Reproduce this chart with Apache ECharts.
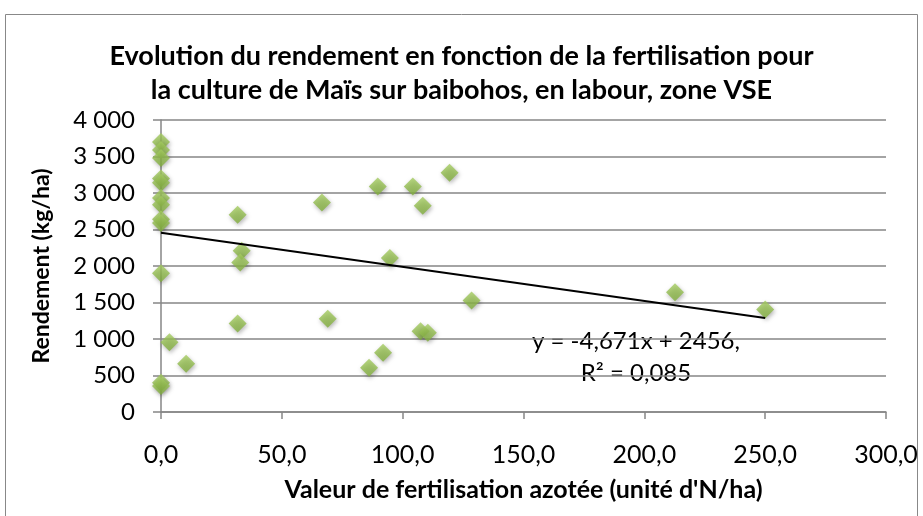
<!DOCTYPE html>
<html>
<head>
<meta charset="utf-8">
<script src="https://cdn.jsdelivr.net/npm/echarts@6/dist/echarts.min.js"></script>
<style>
  html, body { margin: 0; padding: 0; background: #fff; }
  #chart { width: 923px; height: 516px; }
</style>
</head>
<body>
<div id="chart"></div>
<script>
// fertilisation azotée (unité d'N/ha)
const fertN = [
    0, 0, 0, 0, 0, 0, 0, 0, 0, 0, 0, 0,
    3.5, 10.4, 31.7, 33.4, 32.8, 31.7, 66.6, 69.0,
    89.7, 94.7, 86.1, 91.9, 104.2, 108.3, 119.4, 128.5,
    107.4, 110.4, 212.7, 250.0
]
// rendement (kg/ha)
const rendement = [
    3700, 3590, 3480, 3200, 3140, 2930, 2840, 2640, 2590, 1900, 400, 355,
    956, 661, 2701, 2209, 2049, 1212, 2869, 1276,
    3088, 2109, 606, 811, 3088, 2824, 3279, 1526,
    1107, 1085, 1639, 1403
]
// courbe de tendance linéaire (Excel)
const trendSlope = -4.671
const trendIntercept = 2456
const trendRange = [0, 250]
const trendText = 'y = -4,671x + 2456,\nR² = 0,085'

const xTicks = { min: 0, max: 300, interval: 50 }
const yTicks = { min: 0, max: 4000, interval: 500 }

const FONT = 'Lato, "Open Sans", sans-serif'
const AXIS_GREY = '#868686'

const chart = echarts.init(document.getElementById('chart'), null, { renderer: 'canvas' })

const points = fertN.map((x, i) => [x, rendement[i]])
const trend = trendRange.map(x => [x, trendSlope * x + trendIntercept])

const fmtThousands = v => String(v).replace(/\B(?=(\d{3})+(?!\d))/g, ' ')
const fmtDecimal = v => v.toFixed(1).replace('.', ',')

chart.setOption({
    animation: false,
    backgroundColor: '#fff',
    textStyle: { fontFamily: FONT },
    title: {
        text: 'Evolution du rendement en fonction de la fertilisation pour\nla culture de Maïs sur baibohos, en labour, zone VSE',
        left: 'center',
        top: 34,
        textStyle: {
            fontFamily: FONT,
            fontSize: 27,
            fontWeight: 'bold',
            lineHeight: 34,
            color: '#000'
        }
    },
    graphic: [
        {
            type: 'rect',
            shape: { x: 5.5, y: 14.5, width: 912, height: 520 },
            style: { fill: 'none', stroke: '#888', lineWidth: 1 },
            silent: true
        },
        {
            // équation de la courbe de tendance
            type: 'text',
            x: 636,
            y: 325,
            style: {
                text: trendText,
                font: '24px ' + FONT,
                lineHeight: 32,
                align: 'center',
                fill: '#000'
            }
        }
    ],
    grid: { left: 161, right: 37, top: 120, bottom: 104 },
    xAxis: {
        type: 'value',
        min: xTicks.min,
        max: xTicks.max,
        interval: xTicks.interval,
        name: "Valeur de fertilisation azotée (unité d'N/ha)",
        nameLocation: 'middle',
        nameGap: 65,
        nameTextStyle: { fontFamily: FONT, fontSize: 25, fontWeight: 'bold', color: '#000' },
        axisLine: { show: true, lineStyle: { color: AXIS_GREY, width: 1.5 } },
        axisTick: { show: true, inside: false, length: 7, lineStyle: { color: AXIS_GREY, width: 1.5 } },
        axisLabel: { formatter: fmtDecimal, fontSize: 25, color: '#000', margin: 30 },
        splitLine: { show: false }
    },
    yAxis: {
        type: 'value',
        min: yTicks.min,
        max: yTicks.max,
        interval: yTicks.interval,
        name: 'Rendement (kg/ha)',
        nameLocation: 'middle',
        nameGap: 108,
        nameTextStyle: { fontFamily: FONT, fontSize: 23, fontWeight: 'bold', color: '#000' },
        axisLine: { show: true, lineStyle: { color: AXIS_GREY, width: 1.5 } },
        axisTick: { show: true, length: 8, lineStyle: { color: AXIS_GREY, width: 1.5 } },
        axisLabel: { formatter: fmtThousands, fontSize: 24, color: '#000', margin: 26 },
        splitLine: { show: true, lineStyle: { color: AXIS_GREY, width: 1.5 } }
    },
    series: [
        {
            name: 'Rendement',
            type: 'scatter',
            data: points,
            symbol: 'diamond',
            symbolSize: [18, 18],
            z: 3,
            itemStyle: {
                color: new echarts.graphic.LinearGradient(0, 0, 0, 1, [
                    { offset: 0, color: '#a6cd62' },
                    { offset: 1, color: '#80ad3c' }
                ]),
                shadowColor: 'rgba(0,0,0,0.35)',
                shadowBlur: 4,
                shadowOffsetX: 1,
                shadowOffsetY: 2
            }
        },
        {
            name: 'Tendance',
            type: 'line',
            data: trend,
            symbol: 'none',
            z: 4,
            lineStyle: { color: '#000', width: 2 }
        }
    ]
})
</script>
</body>
</html>
